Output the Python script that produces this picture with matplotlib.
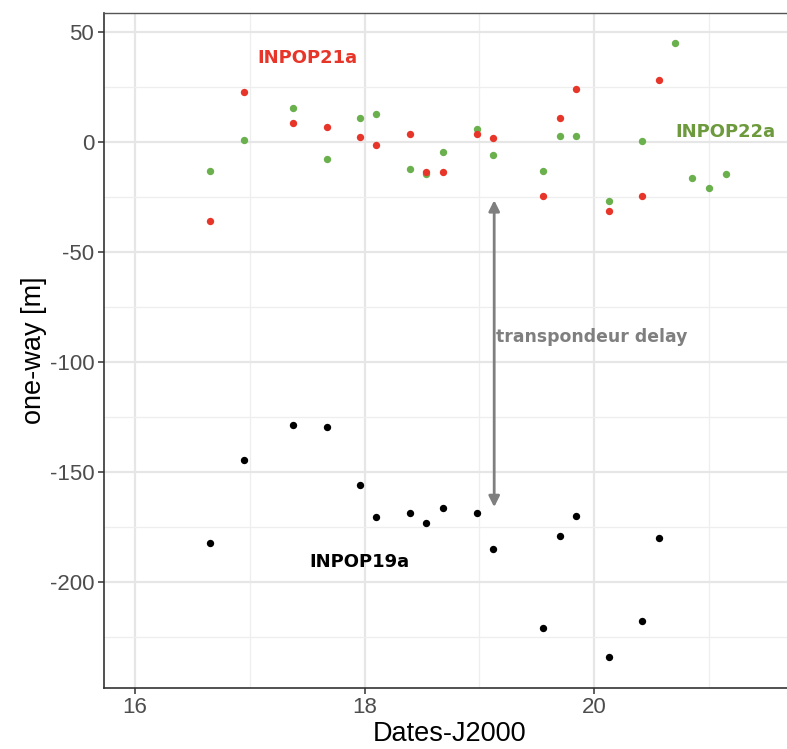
import matplotlib
matplotlib.use("Agg")
import matplotlib.pyplot as plt
from matplotlib.ticker import MultipleLocator

plt.rcParams["axes.unicode_minus"] = False

# Data (dates J2000 in years, one-way residuals in m)
dates = [16.657, 16.949, 17.381, 17.673, 17.957, 18.103, 18.394, 18.539, 18.685,
         18.976, 19.121, 19.554, 19.700, 19.842, 20.134, 20.421, 20.564]

inpop19a = [-182.3, -144.4, -128.4, -129.5, -155.8, -170.2, -168.4, -172.9, -166.2,
            -168.4, -185.0, -220.6, -179.0, -169.9, -234.1, -217.5, -179.9]

inpop21a = [-35.6, 22.7, 8.6, 7.1, 2.4, -1.2, 3.9, -13.5, -13.5,
            3.8, 2.1, -24.5, 11.2, 24.1, -31.1, -24.5, 28.5]

dates22 = [16.657, 16.949, 17.381, 17.673, 17.957, 18.103, 18.394, 18.539, 18.685,
           18.976, 19.121, 19.554, 19.700, 19.842, 20.134, 20.421, 20.709, 20.854,
           21.000, 21.146]
inpop22a = [-12.9, 0.9, 15.7, -7.6, 11.2, 12.9, -12.1, -14.4, -4.5,
            6.0, -5.9, -13.0, 2.9, 2.9, -26.8, 0.6, 45.0, -16.2,
            -20.9, -14.5]

xticks = [16, 18, 20]
yticks = [-200, -150, -100, -50, 0, 50]

RED = "#e8352a"
GREEN = "#6ab04c"
GREEN_TXT = "#6c9a3c"
GRAY = "#7f7f7f"

narrow = ["Liberation Sans Narrow", "Liberation Sans", "DejaVu Sans"]

fig = plt.figure(figsize=(7.87, 7.49), dpi=100)
ax = fig.add_axes([104 / 787, 1 - 687.7 / 749, 1 - 104 / 787 + 0.01, (687.7 - 13) / 749])

ax.set_xlim(15.73, 21.75)
ax.set_ylim(-247.9, 58.8)

ax.xaxis.set_major_locator(MultipleLocator(2))
ax.xaxis.set_minor_locator(MultipleLocator(1))
ax.yaxis.set_major_locator(MultipleLocator(50))
ax.yaxis.set_minor_locator(MultipleLocator(25))
ax.set_xticks(xticks)
ax.set_yticks(yticks)

ax.grid(which="major", color="#e6e6e6", linewidth=1.6)
ax.grid(which="minor", color="#eeeeee", linewidth=0.9)
ax.set_axisbelow(True)
ax.tick_params(which="minor", length=0)
ax.tick_params(which="major", length=4, width=1.1, color="#333333",
               labelcolor="#4d4d4d", labelsize=16, pad=3)
for lab in ax.get_xticklabels() + ax.get_yticklabels():
    lab.set_family(narrow)

for side in ["left", "bottom"]:
    ax.spines[side].set_color("#333333")
    ax.spines[side].set_linewidth(1.2)
ax.spines["top"].set_color("#555555")
ax.spines["top"].set_linewidth(1.0)
ax.spines["right"].set_visible(False)

ax.scatter(dates, inpop19a, s=28, color="black", zorder=3, linewidths=0)
ax.scatter(dates22, inpop22a, s=28, color=GREEN, zorder=3, linewidths=0)
ax.scatter(dates, inpop21a, s=28, color=RED, zorder=4, linewidths=0)

ax.set_xlabel("Dates-J2000", family=narrow, fontsize=19.5, color="black", labelpad=2)
ax.set_ylabel("one-way [m]", family=narrow, fontsize=19.5, color="black", labelpad=2)

ax.text(17.07, 38.3, "INPOP21a", color=RED, fontsize=13, fontweight="bold",
        va="center", ha="left")
ax.text(20.71, 4.8, "INPOP22a", color=GREEN_TXT, fontsize=13, fontweight="bold",
        va="center", ha="left")
ax.text(17.52, -190.6, "INPOP19a", color="black", fontsize=13, fontweight="bold",
        va="center", ha="left")
ax.text(19.15, -88.5, "transpondeur delay", color=GRAY, fontsize=12.4,
        fontweight="bold", va="center", ha="left")

ax.annotate("", xy=(19.13, -26.3), xytext=(19.13, -165.8),
            arrowprops=dict(arrowstyle="<|-|>", color=GRAY, lw=2,
                            mutation_scale=16, shrinkA=0, shrinkB=0))

fig.savefig("out.png", dpi=100)
